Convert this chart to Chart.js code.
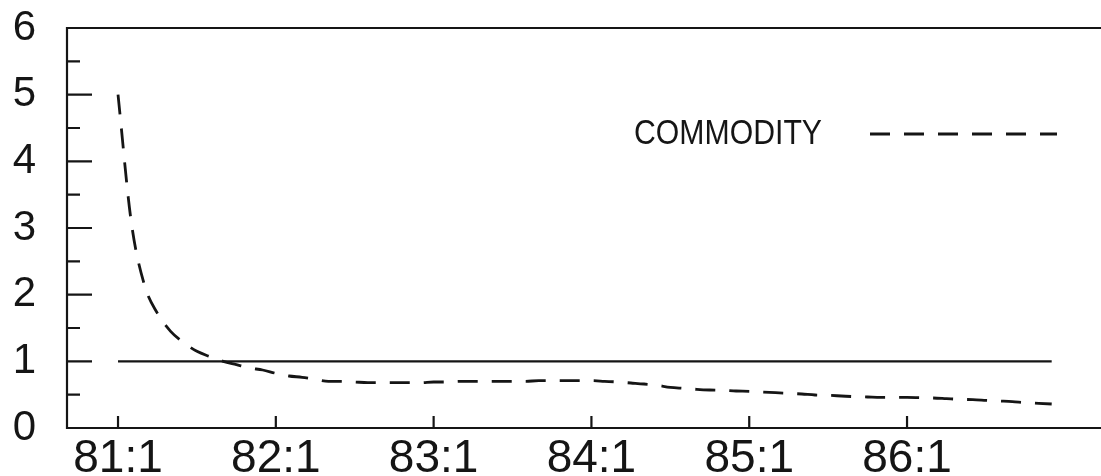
<!DOCTYPE html>
<html>
<head>
  <title>Commodity</title>
  <script src="https://cdn.jsdelivr.net/npm/chart.js"></script>
  <style>
    html, body { margin: 0; padding: 0; background: #fff; }
  </style>
</head>
<body>
  <canvas id="commodityChart" width="1101" height="476"></canvas>

  <script>
    // monthly series starting at 81:1, one tick label per year
    const xTickLabels = ['81:1', '82:1', '83:1', '84:1', '85:1', '86:1'];
    const yTickLabels = ['0', '1', '2', '3', '4', '5', '6'];
    const yMinorTicks = [0.5, 1.5, 2.5, 3.5, 4.5, 5.5];

    const commodity = [
      5.00, 3.10, 2.15, 1.72, 1.45, 1.28, 1.15, 1.07, 1.00, 0.95, 0.90, 0.87,
      0.82, 0.78, 0.76, 0.73, 0.70, 0.70, 0.69, 0.68, 0.68, 0.68, 0.68, 0.68,
      0.69, 0.69, 0.70, 0.70, 0.70, 0.70, 0.70, 0.70, 0.71, 0.71, 0.71, 0.71,
      0.71, 0.70, 0.69, 0.675, 0.66, 0.64, 0.61, 0.595, 0.58, 0.57, 0.565, 0.555,
      0.55, 0.54, 0.53, 0.52, 0.51, 0.495, 0.49, 0.48, 0.47, 0.465, 0.46, 0.46,
      0.46, 0.455, 0.45, 0.44, 0.43, 0.425, 0.415, 0.405, 0.395, 0.38, 0.37, 0.36
    ];

    const baseline = [
      1, 1, 1, 1, 1, 1, 1, 1, 1, 1, 1, 1,
      1, 1, 1, 1, 1, 1, 1, 1, 1, 1, 1, 1,
      1, 1, 1, 1, 1, 1, 1, 1, 1, 1, 1, 1,
      1, 1, 1, 1, 1, 1, 1, 1, 1, 1, 1, 1,
      1, 1, 1, 1, 1, 1, 1, 1, 1, 1, 1, 1,
      1, 1, 1, 1, 1, 1, 1, 1, 1, 1, 1, 1
    ];

    const months = commodity.map((v, i) => i);
    const ink = '#151515';
    const labelFont = "'Liberation Sans', Arial, sans-serif";

    // box, inward tick marks
    const framePlugin = {
      id: 'frame',
      afterDraw(chart) {
        const { ctx, chartArea: a, scales: { x, y } } = chart;
        ctx.save();
        ctx.strokeStyle = ink;
        ctx.lineWidth = 2.2;
        ctx.beginPath();
        ctx.moveTo(a.right, a.top);
        ctx.lineTo(a.left, a.top);
        ctx.lineTo(a.left, a.bottom);
        ctx.lineTo(a.right, a.bottom);
        ctx.stroke();

        ctx.beginPath();
        yTickLabels.slice(1, -1).forEach(l => {
          const py = y.getPixelForValue(+l);
          ctx.moveTo(a.left, py);
          ctx.lineTo(a.left + 25, py);
        });
        yMinorTicks.forEach(v => {
          const py = y.getPixelForValue(v);
          ctx.moveTo(a.left, py);
          ctx.lineTo(a.left + 13, py);
        });
        xTickLabels.forEach((l, i) => {
          const px = x.getPixelForValue(i * 12);
          ctx.moveTo(px, a.bottom);
          ctx.lineTo(px, a.bottom - 12);
        });
        ctx.stroke();
        ctx.restore();
      }
    };

    // legend: text first, then the dashed sample
    const legendPlugin = {
      id: 'commodityLegend',
      afterDraw(chart) {
        const { ctx } = chart;
        const ly = 134;
        ctx.save();
        ctx.fillStyle = ink;
        ctx.font = '35px ' + labelFont;
        ctx.textBaseline = 'middle';
        const w = ctx.measureText('COMMODITY').width;
        ctx.translate(634, ly);
        ctx.scale(188 / w, 1);
        ctx.fillText('COMMODITY', 0, 0);
        ctx.restore();

        ctx.save();
        ctx.strokeStyle = ink;
        ctx.lineWidth = 2.8;
        ctx.setLineDash([20, 14]);
        ctx.beginPath();
        ctx.moveTo(870, ly);
        ctx.lineTo(1057, ly);
        ctx.stroke();
        ctx.restore();
      }
    };

    const ctx = document.getElementById('commodityChart').getContext('2d');

    new Chart(ctx, {
      type: 'line',
      data: {
        datasets: [
          {
            label: 'COMMODITY',
            data: months.map(i => ({ x: i, y: commodity[i] })),
            borderColor: ink,
            borderWidth: 2.8,
            borderDash: [20, 14],
            pointRadius: 0,
            cubicInterpolationMode: 'monotone',
            fill: false
          },
          {
            label: 'base',
            data: months.map(i => ({ x: i, y: baseline[i] })),
            borderColor: ink,
            borderWidth: 2.4,
            pointRadius: 0,
            fill: false
          }
        ]
      },
      options: {
        responsive: false,
        animation: false,
        layout: { padding: { top: 28, right: 0, bottom: 0, left: 0 } },
        plugins: {
          legend: { display: false },
          tooltip: { enabled: false }
        },
        scales: {
          x: {
            type: 'linear',
            min: -3.88,
            max: 74.75,
            grid: { display: false, drawTicks: false },
            border: { display: false },
            afterBuildTicks: s => { s.ticks = xTickLabels.map((l, i) => ({ value: i * 12 })); },
            afterFit: s => { s.height = 48; },
            ticks: {
              autoSkip: false,
              maxRotation: 0,
              padding: 4,
              color: ink,
              font: { family: labelFont, size: 46 },
              callback: v => xTickLabels[Math.round(v / 12)]
            }
          },
          y: {
            min: 0,
            max: 6,
            grid: { display: false, drawTicks: false },
            border: { display: false },
            afterBuildTicks: s => { s.ticks = yTickLabels.map(l => ({ value: +l })); },
            afterFit: s => {
              s.width = 67;
              s.paddingTop = 0;
              s.paddingBottom = 0;
            },
            ticks: {
              padding: 31,
              color: ink,
              font: { family: labelFont, size: 42 },
              callback: v => yTickLabels[Math.round(v)]
            }
          }
        }
      },
      plugins: [framePlugin, legendPlugin]
    });
  </script>
</body>
</html>
